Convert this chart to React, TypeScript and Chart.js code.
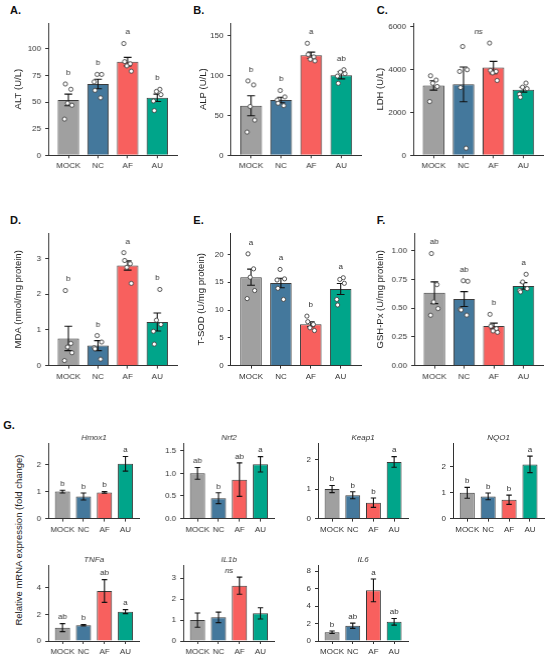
import { useEffect, useRef } from "react";
import { Chart, registerables } from "chart.js";

Chart.register(...registerables);

const FONT = "'Liberation Sans', Arial, Helvetica, sans-serif";
const INK = "#333333";

const groups = ["MOCK", "NC", "AF", "AU"];
const groupColors = ["#a0a0a0", "#44789c", "#f8605e", "#00a58a"];

// A. ALT
const altMean = [52, 67, 88, 54];
const altErr = [5.5, 4.5, 4, 3.5];
const altDots = [[67, 62, 49, 47, 34], [76, 76, 69, 61, 54], [105, 88, 86, 84, 79], [62, 60, 57, 51, 42]];
const altLetters = ["b", "b", "a", "b"];
const altTicks = [0, 25, 50, 75, 100];

// B. ALP
const alpMean = [62, 69, 125, 100];
const alpErr = [12.5, 3.5, 4, 4.5];
const alpDots = [[93, 88, 61, 44, 29], [81, 73, 69, 65, 62], [140, 126, 123, 120, 118], [107, 104, 102, 99, 90]];
const alpLetters = ["b", "b", "a", "ab"];
const alpTicks = [0, 50, 100, 150];

// C. LDH
const ldhMean = [3250, 3300, 4080, 3050];
const ldhErr = [220, 810, 290, 110];
const ldhDots = [[3700, 3500, 3350, 3200, 2500], [5060, 3980, 3900, 3150, 330], [5220, 3950, 3900, 3830, 3480], [3360, 3170, 3100, 2840, 2700]];
const ldhTicks = [0, 2000, 4000, 6000];

// D. MDA
const mdaMean = [0.76, 0.56, 2.8, 1.22];
const mdaErr = [0.34, 0.14, 0.13, 0.25];
const mdaDots = [[2.1, 0.62, 0.52, 0.36, 0.14], [0.84, 0.66, 0.5, 0.47, 0.18], [3.16, 2.94, 2.85, 2.75, 2.3], [2.13, 1.27, 1.15, 0.96, 0.6]];
const mdaLetters = ["b", "b", "a", "b"];
const mdaTicks = [0, 1, 2, 3];

// E. T-SOD
const sodMean = [15.9, 14.85, 7.43, 13.78];
const sodErr = [1.45, 0.85, 0.45, 1.0];
const sodDots = [[20.1, 17.4, 15.9, 13.5, 12.05], [17.3, 15.6, 15.4, 13.9, 11.9], [8.9, 7.9, 7.4, 6.8, 6.3], [15.8, 15.5, 14.8, 11.9, 10.9]];
const sodLetters = ["a", "a", "b", "a"];
const sodTicks = [0, 5, 10, 15, 20];

// F. GSH-Px
const gpxMean = [0.635, 0.58, 0.345, 0.695];
const gpxErr = [0.095, 0.065, 0.025, 0.028];
const gpxDots = [[0.977, 0.706, 0.555, 0.497, 0.439], [0.74, 0.735, 0.49, 0.485, 0.44], [0.447, 0.343, 0.322, 0.302, 0.29], [0.796, 0.729, 0.671, 0.655, 0.642]];
const gpxLetters = ["ab", "ab", "b", "a"];
const gpxTicks = [0, 0.25, 0.5, 0.75, 1];

// G. relative mRNA expression
const hmox1Mean = [1.0, 0.82, 0.97, 2.03];
const hmox1Err = [0.05, 0.13, 0.03, 0.27];
const hmox1Letters = ["b", "b", "b", "a"];
const nrf2Mean = [1.0, 0.45, 0.86, 1.2];
const nrf2Err = [0.13, 0.12, 0.37, 0.17];
const nrf2Letters = ["ab", "b", "ab", "a"];
const keap1Mean = [1.0, 0.79, 0.54, 1.92];
const keap1Err = [0.12, 0.12, 0.16, 0.18];
const keap1Letters = ["b", "b", "b", "a"];
const nqo1Mean = [1.0, 0.86, 0.73, 2.1];
const nqo1Err = [0.21, 0.13, 0.18, 0.32];
const nqo1Letters = ["b", "b", "b", "a"];
const tnfaMean = [1.0, 1.18, 3.75, 2.2];
const tnfaErr = [0.3, 0.05, 0.85, 0.15];
const tnfaLetters = ["ab", "b", "ab", "a"];
const il1bMean = [1.0, 1.13, 2.64, 1.32];
const il1bErr = [0.34, 0.25, 0.41, 0.27];
const il6Mean = [1.0, 1.75, 5.8, 2.2];
const il6Err = [0.15, 0.3, 1.3, 0.38];
const il6Letters = ["b", "ab", "a", "ab"];

const JITTER = [-0.14, 0.12, -0.04, 0.17, -0.18];

type PanelSpec = {
  id: string;
  mean: number[];
  err: number[];
  dots?: number[][];
  letters?: string[];
  ns?: boolean;
  yMax: number;
  yTicks: number[];
  decimals: number;
  yTitle?: string;
  titleX?: number;
  gene?: string;
  plot: [number, number, number, number]; // left, top, right, bottom on the page
};

const panels: PanelSpec[] = [
  { id: "A", mean: altMean, err: altErr, dots: altDots, letters: altLetters, yMax: 124.3, yTicks: altTicks, decimals: 0, yTitle: "ALT (U/L)", titleX: 19, plot: [48.3, 23, 176.7, 155.3] },
  { id: "B", mean: alpMean, err: alpErr, dots: alpDots, letters: alpLetters, yMax: 165.4, yTicks: alpTicks, decimals: 0, yTitle: "ALP (U/L)", titleX: 204, plot: [230.7, 23, 361, 155.3] },
  { id: "C", mean: ldhMean, err: ldhErr, dots: ldhDots, ns: true, yMax: 6154, yTicks: ldhTicks, decimals: 0, yTitle: "LDH (U/L)", titleX: 381, plot: [413.3, 23, 543, 155.3] },
  { id: "D", mean: mdaMean, err: mdaErr, dots: mdaDots, letters: mdaLetters, yMax: 3.71, yTicks: mdaTicks, decimals: 0, yTitle: "MDA (nmol/mg protein)", titleX: 19, plot: [48.3, 232.7, 176.7, 365.3] },
  { id: "E", mean: sodMean, err: sodErr, dots: sodDots, letters: sodLetters, yMax: 23.85, yTicks: sodTicks, decimals: 0, yTitle: "T-SOD (U/mg protein)", titleX: 201.7, plot: [230.7, 232.7, 361, 365.3] },
  { id: "F", mean: gpxMean, err: gpxErr, dots: gpxDots, letters: gpxLetters, yMax: 1.156, yTicks: gpxTicks, decimals: 2, yTitle: "GSH-Px (U/mg protein)", titleX: 381, plot: [414.3, 232.7, 543, 365.3] },
  { id: "Hmox1", gene: "Hmox1", mean: hmox1Mean, err: hmox1Err, letters: hmox1Letters, yMax: 2.8, yTicks: [0, 1, 2], decimals: 0, plot: [48.3, 442.7, 139, 518.3] },
  { id: "Nrf2", gene: "Nrf2", mean: nrf2Mean, err: nrf2Err, letters: nrf2Letters, yMax: 1.67, yTicks: [0, 0.5, 1, 1.5], decimals: 1, plot: [183.3, 442.7, 274, 518.3] },
  { id: "Keap1", gene: "Keap1", mean: keap1Mean, err: keap1Err, letters: keap1Letters, yMax: 2.56, yTicks: [0, 1, 2], decimals: 0, plot: [318.3, 442.7, 408.5, 518.3] },
  { id: "NQO1", gene: "NQO1", mean: nqo1Mean, err: nqo1Err, letters: nqo1Letters, yMax: 2.93, yTicks: [0, 1, 2], decimals: 0, plot: [453.3, 442.7, 544.5, 518.3] },
  { id: "TNFa", gene: "TNFa", mean: tnfaMean, err: tnfaErr, letters: tnfaLetters, yMax: 5.7, yTicks: [0, 2, 4], decimals: 0, plot: [48.3, 565, 139, 641] },
  { id: "IL1b", gene: "IL1b", mean: il1bMean, err: il1bErr, ns: true, yMax: 3.63, yTicks: [0, 1, 2, 3], decimals: 0, plot: [183.3, 565, 274, 641] },
  { id: "IL6", gene: "IL6", mean: il6Mean, err: il6Err, letters: il6Letters, yMax: 8.7, yTicks: [0, 2, 4, 6, 8], decimals: 0, plot: [318.3, 565, 408.5, 641] },
];

const panelLetters = [
  { text: "A.", x: 10, y: 9.5 },
  { text: "B.", x: 193.3, y: 9.5 },
  { text: "C.", x: 376.7, y: 9.5 },
  { text: "D.", x: 10, y: 219.7 },
  { text: "E.", x: 193.3, y: 219.7 },
  { text: "F.", x: 376.7, y: 219.7 },
  { text: "G.", x: 3.3, y: 424.5 },
];

function marksPlugin(p: PanelSpec) {
  return {
    id: "marks" + p.id,
    afterDatasetsDraw(chart: any) {
      const { ctx, chartArea } = chart;
      const xs = chart.scales.x;
      const ys = chart.scales.y;
      const bars = chart.getDatasetMeta(0).data;
      ctx.save();

      // error bars
      ctx.strokeStyle = "#111";
      ctx.lineWidth = 1.1;
      p.mean.forEach((m, i) => {
        const cx = xs.getPixelForValue(i);
        const cap = bars[i].width * 0.18;
        const yHi = ys.getPixelForValue(m + p.err[i]);
        const yLo = ys.getPixelForValue(m - p.err[i]);
        ctx.beginPath();
        ctx.moveTo(cx, yLo);
        ctx.lineTo(cx, yHi);
        ctx.moveTo(cx - cap, yHi);
        ctx.lineTo(cx + cap, yHi);
        ctx.moveTo(cx - cap, yLo);
        ctx.lineTo(cx + cap, yLo);
        ctx.stroke();
      });

      // individual values
      if (p.dots) {
        ctx.fillStyle = "#ffffff";
        ctx.strokeStyle = "#444";
        ctx.lineWidth = 0.9;
        p.dots.forEach((vals, i) => {
          const cx = xs.getPixelForValue(i);
          const w = bars[i].width;
          vals.forEach((v, j) => {
            const dx = JITTER[(j + i * 2) % JITTER.length] * w;
            ctx.beginPath();
            ctx.arc(cx + dx, ys.getPixelForValue(v), 2.1, 0, Math.PI * 2);
            ctx.fill();
            ctx.stroke();
          });
        });
      }

      const topOf = (i: number) =>
        Math.max(p.mean[i] + p.err[i], ...(p.dots ? p.dots[i] : []));
      const lift = 0.085 * p.yMax;

      ctx.fillStyle = INK;
      ctx.textAlign = "center";
      ctx.textBaseline = "middle";
      if (p.letters) {
        ctx.font = `8px ${FONT}`;
        p.letters.forEach((l, i) => {
          ctx.fillText(l, xs.getPixelForValue(i), ys.getPixelForValue(topOf(i) + lift));
        });
      }
      if (p.ns) {
        const top = Math.max(...p.mean.map((_, i) => topOf(i)));
        ctx.font = `italic 8px ${FONT}`;
        ctx.fillText("ns", xs.getPixelForValue(1.5), ys.getPixelForValue(top + lift));
      }
      if (p.gene) {
        ctx.font = `italic 8px ${FONT}`;
        ctx.fillText(p.gene, (chartArea.left + chartArea.right) / 2, chartArea.top - 5.5);
      }
      ctx.restore();
    },
  };
}

function Panel({ p }: { p: PanelSpec }) {
  const canvasRef = useRef<HTMLCanvasElement>(null);
  const [l, t, r, b] = p.plot;
  const x0 = p.titleX !== undefined ? p.titleX - 5.7 : l - 30;
  const y0 = t - (p.gene ? 14 : 10);
  const padRight = 5;
  const xAxisH = 20;
  const w = r + padRight - x0;
  const h = b + xAxisH - y0;

  useEffect(() => {
    if (!canvasRef.current) return;
    const chart = new Chart(canvasRef.current, {
      type: "bar",
      data: {
        datasets: [
          {
            data: p.mean.map((m, i) => ({ x: i, y: m })),
            backgroundColor: groupColors,
            borderColor: "#3a3a3a",
            borderWidth: 1,
            barPercentage: 0.72,
            categoryPercentage: 1,
          },
        ],
      },
      options: {
        animation: false,
        responsive: true,
        maintainAspectRatio: false,
        layout: { padding: { left: 0, top: t - y0, right: padRight, bottom: 0 } },
        plugins: { legend: { display: false }, tooltip: { enabled: false }, title: { display: false } },
        scales: {
          x: {
            type: "linear",
            offset: false,
            min: -0.68,
            max: 3.68,
            afterBuildTicks: (s: any) => {
              s.ticks = groups.map((_, i) => ({ value: i }));
            },
            afterFit: (s: any) => {
              s.height = xAxisH;
            },
            ticks: {
              autoSkip: false,
              maxRotation: 0,
              padding: 3,
              color: INK,
              font: { size: 8, family: FONT },
              callback: (v: any) => groups[v as number] ?? "",
            },
            grid: { offset: false, drawOnChartArea: false, drawTicks: true, tickLength: 3, color: INK, lineWidth: 1 },
            border: { display: true, color: INK, width: 1 },
          },
          y: {
            type: "linear",
            min: 0,
            max: p.yMax,
            afterBuildTicks: (s: any) => {
              s.ticks = p.yTicks.map((v) => ({ value: v }));
            },
            afterFit: (s: any) => {
              s.width = l - x0;
            },
            ticks: {
              padding: 4,
              color: INK,
              font: { size: 8, family: FONT },
              callback: (v: any) => Number(v).toFixed(p.decimals),
            },
            grid: { drawOnChartArea: false, drawTicks: true, tickLength: 3, color: INK, lineWidth: 1 },
            border: { display: true, color: INK, width: 1 },
            title: {
              display: !!p.yTitle,
              text: p.yTitle ?? "",
              color: "#222",
              font: { size: 9.5, family: FONT },
              padding: { top: 0, bottom: 0 },
            },
          },
        },
      },
      plugins: [marksPlugin(p)],
    });
    return () => chart.destroy();
  }, [p]);

  return (
    <div style={{ position: "absolute", left: x0, top: y0, width: w, height: h }}>
      <canvas ref={canvasRef} />
    </div>
  );
}

export default function App() {
  return (
    <div
      style={{
        position: "absolute",
        left: 0,
        top: 0,
        width: 550,
        height: 658,
        background: "#ffffff",
        fontFamily: FONT,
        color: "#111",
        overflow: "hidden",
      }}
    >
      {panelLetters.map((pl) => (
        <div
          key={pl.text}
          style={{
            position: "absolute",
            left: pl.x,
            top: pl.y - 7,
            lineHeight: "14px",
            fontSize: 11,
            fontWeight: "bold",
          }}
        >
          {pl.text}
        </div>
      ))}
      <div
        style={{
          position: "absolute",
          left: 18.3,
          top: 540,
          transform: "translate(-50%, -50%) rotate(-90deg)",
          whiteSpace: "nowrap",
          fontSize: 9.5,
          color: "#222",
        }}
      >
        Relative mRNA expression (fold change)
      </div>
      {panels.map((p) => (
        <Panel key={p.id} p={p} />
      ))}
    </div>
  );
}
